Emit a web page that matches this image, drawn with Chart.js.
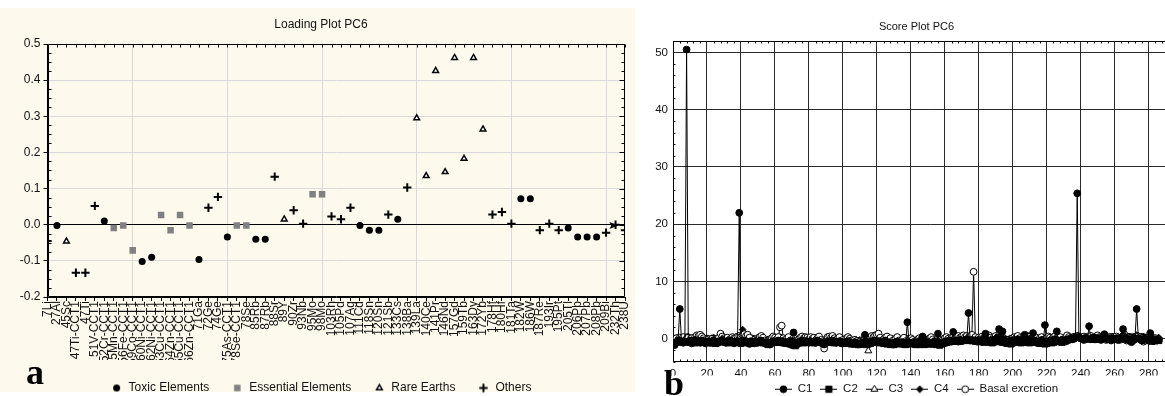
<!DOCTYPE html>
<html><head><meta charset="utf-8">
<script src="https://cdn.jsdelivr.net/npm/chart.js@4/dist/chart.umd.min.js"></script>
<style>
html,body{margin:0;padding:0;background:#fff;width:1165px;height:396px;overflow:hidden;position:relative;}
#creamA{position:absolute;left:0;top:8px;width:635px;height:384px;background:#fdf9ed;}
#cA{position:absolute;left:0;top:8px;}
#cB{position:absolute;left:640px;top:0;}
.lab{position:absolute;font-family:'Liberation Serif','Times New Roman',serif;font-weight:bold;font-size:36px;line-height:36px;color:#000;}
</style></head><body>
<div id="creamA"></div>
<canvas id="cA" width="635" height="396"></canvas>
<canvas id="cB" width="553" height="405"></canvas>
<div class="lab" style="left:26px;top:354px">a</div>
<div class="lab" style="left:664px;top:365px">b</div>
<script>
// ---------- Panel a: loading plot ----------
const elements = ['7Li','27Al','45Sc','47Ti-CCT1','47Ti','51V-CCT1','52Cr-CCT1','55Mn-CCT1','56Fe-CCT1','59Co-CCT1',
 '60Ni-CCT1','62Ni-CCT1','63Cu-CCT1','64Zn-CCT1','65Cu-CCT1','66Zn-CCT1','71Ga','72Ge','74Ge','75As-CCT1',
 '78Se-CCT1','78Se','85Rb','87Rb','88Sr','89Y','90Zr','93Nb','95Mo','98Mo',
 '103Rh','105Pd','107Ag','111Cd','118Sn','120Sn','121Sb','133Cs','138Ba','139La',
 '140Ce','141Pr','146Nd','157Gd','159Tb','163Dy','172Yb','178Hf','180Hf','181Ta',
 '182W','186W','187Re','193Ir','195Pt','205Tl','206Pb','207Pb','208Pb','209Bi',
 '232Th','238U'];
const loadings = [-0.045,-0.002,-0.046,-0.133,-0.133,0.052,0.010,-0.009,-0.002,-0.071,
 -0.102,-0.090,0.027,-0.015,0.027,-0.002,-0.096,0.047,0.077,-0.034,
 -0.002,-0.002,-0.040,-0.040,0.133,0.015,0.040,0.003,0.084,0.084,
 0.023,0.015,0.047,-0.002,-0.015,-0.015,0.028,0.015,0.103,0.295,
 0.135,0.426,0.146,0.462,0.183,0.462,0.264,0.028,0.035,0.003,
 0.072,0.072,-0.015,0.003,-0.015,-0.009,-0.034,-0.034,-0.034,-0.022,
 0.000,-0.015];
// 0 = Toxic, 1 = Essential, 2 = Rare Earths, 3 = Others
const elementGroups = [3,0,2,3,3,3,0,1,1,1,
 0,0,1,1,1,1,0,3,3,0,
 1,1,0,0,3,2,3,3,1,1,
 3,3,3,0,0,0,3,0,3,2,
 2,2,2,2,2,2,2,3,3,3,
 0,0,3,3,3,0,0,0,0,3,
 3,3];
const groupNames = ['Toxic Elements','Essential Elements','Rare Earths','Others'];
const yTickLabelsA = ['-0.2','-0.1','0.0','0.1','0.2','0.3','0.4','0.5'];

// ---------- Panel b: score plot ----------
const seriesNames = ['C1','C2','C3','C4','Basal excretion'];
const xTickLabelsB = ['0','20','40','60','80','100','120','140','160','180','200','220','240','260','280'];
const c1Scores = [
-1.1,-0.6,-0.3,5.2,-0.4,-0.7,-0.5,50.5,-0.6,-0.3,-0.8,-0.5,-0.2,-0.6,-0.4,-0.7,-0.3,-0.5,-0.8,-0.6,
-0.4,-0.7,-0.5,-0.3,-0.6,-0.8,-0.4,-0.5,-0.2,-0.6,-0.7,-0.4,-0.5,-0.3,-0.6,-0.8,-0.5,-0.4,22.0,-0.5,
-0.3,-0.6,-0.4,-0.7,-0.9,-0.5,-0.6,-0.8,-0.4,-0.7,-0.5,-0.3,-0.6,-0.8,-0.9,-0.6,-1.0,-0.7,-0.4,-0.5,
-0.6,-0.3,-0.5,-0.4,-0.7,-0.6,-0.8,-0.5,-0.7,-0.4,1.1,-0.9,-0.8,-0.6,-0.5,-0.3,-0.6,-0.4,-0.5,-0.7,
-0.4,-0.6,-0.5,-0.7,-0.3,-0.5,-0.6,-0.8,-1.0,-0.7,-0.5,-0.4,-0.6,-0.3,-0.5,-0.7,-0.6,-0.4,-0.8,-0.6,
-0.7,-0.5,-0.4,-0.6,-0.8,-0.9,-0.6,-0.7,-1.0,-0.8,-0.9,-0.6,0.7,-0.5,-0.8,-0.6,-0.4,-0.5,-0.3,-0.5,
-0.4,-0.6,-0.7,-0.5,-0.3,-0.6,-0.8,-0.7,-0.9,-1.0,-0.6,-0.5,-0.7,-0.8,-0.6,-0.9,-0.7,2.9,-0.6,-0.8,
-0.7,-0.9,-0.6,-0.8,-0.5,-0.7,0.4,-0.6,-0.8,-0.5,-0.7,-0.9,-0.6,-0.4,-0.5,0.9,-0.7,-0.8,-0.6,-0.5,
-0.4,-0.6,-0.3,-0.5,1.2,-0.4,-0.3,-0.5,-0.2,-0.4,-0.3,-0.2,-0.1,4.5,-0.3,-0.2,-0.4,-0.3,-0.5,-0.2,
-0.4,-0.3,-0.1,0.9,-0.2,-0.3,-0.5,-0.2,-0.4,-0.1,0.2,1.7,0.5,1.3,-0.2,-0.5,-0.7,-0.4,-0.6,-0.3,
-0.2,-0.4,-0.1,-0.3,-0.5,-0.2,0.7,-0.3,-0.1,-0.4,-0.2,1.0,-0.3,-0.5,-0.6,-0.4,-0.2,-0.5,2.4,-0.7,
-0.5,-0.3,-0.4,-0.2,-0.1,1.3,-0.3,-0.4,-0.2,-0.5,-0.3,-0.1,-0.2,0.1,-0.1,0.0,0.2,25.4,0.3,0.1,
0.0,-0.2,0.1,0.0,2.2,-0.1,0.0,0.2,-0.1,0.1,0.0,-0.2,0.1,0.8,0.0,-0.1,0.1,-0.2,0.0,-0.1,
0.1,-0.2,0.0,0.2,1.7,0.1,-0.1,0.0,-0.3,-0.5,-0.2,0.0,5.2,0.1,-0.1,-0.3,-0.2,0.0,-0.1,-0.3,
1.0,-0.2,-0.4,-0.1,-0.3,-0.2];
const c2Scores = [
-0.5,-0.3,-0.6,-0.4,-0.2,-0.5,0.0,-0.3,-0.4,-0.6,-0.5,-0.3,-0.7,-0.4,-0.5,-0.6,-0.3,-0.5,-0.4,-0.6,
-0.5,-0.7,-0.6,-0.4,-0.8,-0.6,-0.5,-0.3,-0.5,-0.4,-0.6,-0.5,-0.7,-0.4,-0.6,-0.5,-0.3,-0.4,-0.6,-0.8,
-0.5,-0.6,-0.4,-0.7,-0.5,-0.8,-0.6,-0.7,-0.5,-0.6,-0.4,-0.5,-0.7,-0.6,-0.8,-1.0,-0.9,-0.7,-0.5,-0.6,
-0.5,-0.4,-0.6,-0.5,-0.7,-0.6,-0.8,-0.7,-0.9,-1.0,-1.1,-1.2,-0.9,-0.7,-0.6,-0.5,-0.7,-0.6,-0.4,-0.5,
-0.6,-0.5,-0.7,-0.6,-0.5,-0.4,-0.6,-0.7,-0.8,-0.6,-0.5,-0.4,-0.6,-0.5,-0.7,-0.6,-0.5,-0.4,-0.6,-0.7,
-0.8,-0.6,-0.5,-0.7,-0.9,-0.8,-0.7,-0.9,-1.0,-0.8,-0.9,-0.7,-0.6,-0.8,-0.9,-0.7,-0.6,-0.5,-0.4,-0.6,
-0.5,-0.7,-0.6,-0.8,-0.7,-0.9,-0.8,-1.0,-0.9,-1.0,-0.8,-0.7,-0.9,-0.8,-0.7,-0.9,-1.0,-0.9,-0.8,-0.7,
-0.8,-0.9,-1.0,-0.8,-1.0,-0.9,-0.8,-1.0,-0.9,-0.7,-0.8,-0.9,-0.7,-0.8,-1.0,-0.9,-1.1,-0.9,-0.8,-0.7,
-0.6,-0.5,-0.4,-0.3,-0.2,-0.4,-0.3,-0.2,-0.4,-0.3,-0.1,-0.2,-0.3,-0.1,-0.2,-0.3,-0.1,-0.2,-0.4,-0.3,
-0.5,-0.4,-0.6,-0.3,-0.5,-0.4,-0.6,-0.7,-0.5,-0.4,-0.3,-0.5,-0.4,-0.6,-0.5,-0.7,-0.8,-0.6,-0.9,-0.7,
-0.5,-0.6,-0.4,-0.5,-0.7,-0.6,-0.5,-0.4,-0.6,-0.7,-0.5,-0.6,-0.4,-0.5,-0.7,-0.8,-0.6,-0.7,-0.9,-0.8,
-0.6,-0.5,-0.7,-0.6,-0.4,-0.5,-0.3,-0.4,-0.6,-0.5,-0.4,-0.2,-0.1,0.0,0.1,0.2,0.3,0.4,0.3,0.2,
0.1,0.2,0.3,0.1,0.0,0.2,0.3,0.1,0.2,0.0,0.1,0.3,0.2,0.1,0.0,0.2,0.1,0.3,0.2,0.0,
0.1,0.2,0.0,-0.1,0.1,0.2,0.3,0.1,0.0,0.2,0.1,0.3,0.2,0.4,0.3,0.1,0.0,-0.1,-0.2,-0.3,
-0.2,-0.4,-0.3,-0.1,-0.2,-0.3];
const c3Scores = [
-0.2,0.0,-0.3,-0.1,0.1,-0.2,-0.1,0.2,0.3,-0.1,0.0,-0.2,0.1,-0.1,0.0,-0.3,-0.2,0.0,-0.1,-0.2,
-0.3,-0.1,0.0,-0.2,-0.1,-0.3,-0.2,0.0,0.1,-0.1,-0.2,0.0,-0.1,-0.3,-0.2,0.0,-0.1,0.1,0.0,0.3,
0.5,0.2,0.0,-0.1,-0.3,-0.2,-0.4,-0.3,-0.1,0.0,-0.2,-0.1,-0.3,-0.2,-0.4,-0.3,-0.5,-0.3,-0.1,-0.2,
-0.1,0.0,0.2,0.1,-0.1,-0.2,-0.3,-0.1,-0.2,-0.4,-0.3,-0.5,-0.4,-0.2,-0.1,0.0,-0.2,-0.1,-0.3,-0.2,
-0.1,-0.2,0.0,-0.1,-0.3,-0.2,-0.4,-0.5,-0.6,-0.4,-0.2,-0.1,-0.3,-0.2,-0.1,-0.3,-0.2,-0.4,-0.3,-0.2,
-0.4,-0.3,-0.2,-0.4,-0.5,-0.6,-0.4,-0.5,-0.7,-0.6,-0.8,-0.7,-0.9,-1.2,-2.1,-1.0,-0.6,-0.4,-0.3,-0.2,
-0.1,-0.3,-0.2,-0.4,-0.3,-0.2,-0.4,-0.5,-0.3,-0.4,-0.6,-0.5,-0.3,-0.4,-0.5,-0.3,-0.4,-0.2,-0.3,-0.5,
-0.4,-0.6,-0.5,-0.3,-0.4,-0.2,-0.3,-0.5,-0.4,-0.3,-0.5,-0.4,-0.2,-0.3,-0.4,-0.2,-0.5,-0.3,-0.4,-0.2,
-0.1,0.0,-0.2,-0.1,0.1,0.0,-0.1,0.1,0.2,0.0,0.1,-0.1,0.2,0.3,0.1,0.0,0.4,0.2,0.0,-0.1,
-0.2,0.0,0.1,-0.1,0.0,-0.2,-0.1,0.1,0.0,0.2,0.1,0.3,0.2,0.0,-0.2,-0.3,-0.5,-0.4,-0.3,-0.2,
-0.1,0.0,-0.2,-0.3,-0.1,0.0,0.1,-0.1,-0.2,0.0,-0.1,0.1,-0.2,-0.3,-0.1,-0.2,0.0,-0.3,-0.4,-0.2,
-0.1,0.0,-0.2,-0.1,0.1,0.0,-0.1,0.1,-0.2,-0.1,0.0,0.2,0.1,0.0,0.2,0.1,0.3,0.5,0.4,0.2,
0.1,0.2,0.0,0.1,0.3,0.2,0.1,0.0,0.2,0.1,0.3,0.2,0.0,0.1,0.2,0.0,0.1,0.2,0.3,0.1,
0.0,0.2,0.1,0.3,0.2,0.4,0.6,0.3,0.1,0.0,0.2,0.1,0.3,0.2,0.1,0.0,-0.1,0.1,0.0,-0.2,
0.0,-0.1,0.1,0.0,-0.2,-0.1];
const c4Scores = [
0.1,-0.1,0.2,0.0,-0.2,0.1,0.3,0.0,0.4,0.2,0.0,-0.1,0.1,0.2,0.0,-0.1,0.1,0.0,-0.2,0.1,
0.0,-0.1,0.1,0.2,-0.1,0.0,0.1,0.2,0.0,-0.1,0.1,0.0,-0.2,0.1,0.0,0.2,0.1,0.0,0.3,0.6,
1.6,0.9,0.4,0.2,0.0,-0.1,0.1,0.0,-0.2,0.1,0.0,-0.1,0.1,0.0,-0.2,-0.1,0.0,0.1,-0.1,0.0,
0.1,0.0,0.2,0.1,0.0,-0.1,0.1,0.0,-0.2,-0.1,0.0,-0.2,-0.1,0.1,0.0,0.2,0.1,0.0,-0.1,0.1,
0.0,0.1,-0.1,0.0,0.1,0.2,0.0,-0.1,-0.3,-0.1,0.0,0.1,0.0,0.2,0.1,0.0,-0.1,0.1,0.0,-0.1,
-0.2,0.0,0.1,-0.1,-0.2,-0.3,-0.1,-0.2,-0.3,-0.2,-0.4,-0.3,-0.1,-0.2,-0.5,-0.3,-0.1,0.0,0.1,0.0,
0.2,0.1,0.0,-0.1,0.0,0.1,-0.1,0.0,-0.2,-0.1,0.0,0.1,-0.1,-0.2,0.0,-0.1,-0.2,0.0,-0.1,-0.2,
-0.1,-0.3,-0.2,-0.1,0.0,-0.1,0.1,-0.2,-0.1,0.0,-0.2,-0.1,0.0,-0.2,-0.1,0.1,-0.1,-0.2,0.0,0.1,
0.2,0.1,0.0,0.2,0.3,0.2,0.1,0.3,0.2,0.4,0.3,0.2,0.4,0.3,0.2,0.3,0.5,0.2,0.1,0.2,
0.1,0.2,0.3,0.1,0.2,0.3,0.1,0.0,0.2,0.3,0.4,1.1,0.8,0.4,0.1,0.0,-0.1,0.0,-0.2,0.1,
0.2,0.1,0.3,0.0,0.1,0.2,0.1,0.3,0.2,0.1,0.0,0.2,0.1,-0.1,0.0,0.1,0.2,0.0,-0.1,0.1,
0.2,0.1,0.0,0.2,0.1,0.3,0.2,0.0,0.1,0.2,0.0,0.1,0.2,0.3,0.2,0.4,0.5,0.3,0.4,0.3,
0.2,0.3,0.4,0.2,0.3,0.5,0.4,0.2,0.3,0.4,0.2,0.3,0.4,0.2,0.3,0.1,0.2,0.3,0.4,0.2,
0.3,0.4,0.2,0.5,0.7,0.4,0.3,0.2,0.4,0.3,0.2,0.4,0.6,0.5,0.3,0.2,0.4,0.3,0.1,0.2,
0.3,0.1,0.2,0.0,0.1,0.2];
const basalScores = [
-0.3,0.1,-0.2,0.2,-0.1,0.3,-0.4,0.0,0.2,-0.3,0.1,-0.5,0.3,0.6,0.5,0.7,0.4,0.1,-0.2,-0.3,
-0.1,-0.4,0.0,-0.2,-0.5,-0.3,0.2,0.9,0.4,0.1,-0.1,0.2,-0.2,0.0,0.3,0.1,0.2,0.4,0.5,0.3,
0.6,0.8,0.5,0.7,0.2,-0.4,-0.6,-0.2,-0.5,0.1,0.3,0.5,0.2,-0.3,-0.6,-0.4,-0.2,0.1,0.4,0.2,
-0.1,0.3,2.0,2.3,0.1,-0.2,0.0,0.3,-0.3,-0.5,0.1,-0.4,-0.6,-0.2,0.2,0.4,0.1,0.3,0.2,-0.1,
0.3,0.0,0.2,-0.3,0.1,0.4,-0.2,-0.6,-1.7,-0.5,0.3,0.4,0.2,0.5,0.1,-0.2,0.0,0.3,-0.4,-0.2,
-0.5,0.1,0.3,0.0,-0.3,-0.6,-0.2,-0.4,-0.7,-0.5,-0.8,-0.3,0.1,-0.2,-0.4,0.2,0.5,0.3,0.6,0.7,
0.9,0.2,-0.3,-0.1,0.2,0.4,-0.2,0.1,-0.4,-0.2,0.0,0.3,-0.3,-0.5,-0.1,0.2,-0.4,-0.6,-0.3,0.1,
-0.2,-0.5,-0.7,-0.3,0.1,-0.1,0.2,-0.4,-0.6,-0.2,0.0,0.3,-0.1,-0.5,-0.3,0.2,-0.2,-0.4,-0.1,0.1,
0.3,0.0,-0.3,0.2,0.4,0.1,0.3,0.5,0.2,0.4,0.6,0.3,0.5,0.2,0.4,0.7,11.7,0.3,-0.1,0.2,
0.0,0.4,0.2,0.5,0.3,0.6,0.2,-0.1,0.3,0.5,0.2,0.7,0.4,0.3,-0.2,-0.5,-0.3,-0.6,-0.2,0.1,
0.3,0.2,0.5,0.1,-0.2,0.0,0.3,0.6,0.2,0.4,0.1,0.3,-0.1,0.2,-0.3,0.1,0.3,-0.2,-0.4,0.1,
0.4,0.2,-0.1,0.3,0.5,0.2,0.0,0.3,-0.2,-0.4,0.1,0.6,0.3,-0.1,0.2,0.0,0.3,0.4,0.2,0.3,
0.1,0.4,0.2,0.0,0.3,0.5,0.2,-0.1,0.4,0.6,0.3,0.2,0.0,0.3,-0.2,0.1,0.3,-0.3,-0.1,0.2,
0.4,0.1,-0.2,0.2,0.3,0.0,-0.3,0.2,-0.4,-0.6,-0.3,-0.1,0.2,0.4,0.1,-0.2,-0.5,-0.3,0.0,0.2,
-0.1,-0.4,-0.2,0.1,-0.3,-0.1];
const firstSampleNo = 1;

// ---------- helpers ----------
Chart.defaults.font.family = "'Liberation Sans', Arial, sans-serif";
Chart.defaults.color = '#111';

function drawMarker(g, st, x, y) {
  const r = st.radius;
  g.save();
  g.fillStyle = st.bg; g.strokeStyle = st.bc; g.lineWidth = st.bw;
  g.beginPath();
  if (st.pointStyle === 'circle') { g.arc(x, y, r, 0, Math.PI * 2); g.fill(); if (st.bw) g.stroke(); }
  else if (st.pointStyle === 'rect') { const s = r * Math.SQRT1_2; g.rect(x - s, y - s, 2 * s, 2 * s); g.fill(); if (st.bw) g.stroke(); }
  else if (st.pointStyle === 'rectRot') { const s = r; g.moveTo(x, y - s); g.lineTo(x + s, y); g.lineTo(x, y + s); g.lineTo(x - s, y); g.closePath(); g.fill(); if (st.bw) g.stroke(); }
  else if (st.pointStyle === 'triangle') {
    g.moveTo(x, y - r); g.lineTo(x + r * 0.866, y + r * 0.5); g.lineTo(x - r * 0.866, y + r * 0.5); g.closePath(); g.fill(); if (st.bw) g.stroke();
  }
  else if (st.pointStyle === 'cross') { g.moveTo(x - r, y); g.lineTo(x + r, y); g.moveTo(x, y - r); g.lineTo(x, y + r); g.stroke(); }
  g.restore();
}
function makeIcon(w, h, st, withLine) {
  const c = document.createElement('canvas'); c.width = w; c.height = h;
  const g = c.getContext('2d');
  if (withLine) { g.strokeStyle = '#000'; g.lineWidth = 1; g.beginPath(); g.moveTo(0, Math.floor(h / 2) + 0.5); g.lineTo(w, Math.floor(h / 2) + 0.5); g.stroke(); }
  drawMarker(g, st, w / 2, Math.floor(h / 2) + 0.5);
  return c;
}

const decorPlugin = {
  id: 'decor',
  afterDatasetsDraw(chart, args, o) {
    const {ctx, chartArea: a, scales} = chart;
    const xs = scales.x, ys = scales.y;
    ctx.save();
    ctx.strokeStyle = '#000'; ctx.lineWidth = 1;
    const L = Math.round(a.left) + 0.5, R = Math.round(a.right) - 0.5, T = Math.round(a.top) + 0.5, B = Math.round(a.bottom) - 0.5;
    ctx.beginPath();
    if (o.frame) { ctx.rect(L, T, R - L, B - T); } else { ctx.moveTo(L, T); ctx.lineTo(R + 20, T); }
    (o.topTicks || []).forEach(v => { const p = Math.round(xs.getPixelForValue(v)) + 0.5; ctx.moveTo(p, T); ctx.lineTo(p, T + o.topLen); });
    (o.bottomTicks || []).forEach(v => { const p = Math.round(xs.getPixelForValue(v)) + 0.5; ctx.moveTo(p, B); ctx.lineTo(p, B - o.bottomLen); });
    (o.leftTicks || []).forEach(v => { const p = Math.round(ys.getPixelForValue(v)) + 0.5; ctx.moveTo(L, p); ctx.lineTo(L + o.leftLen, p); });
    (o.rightTicks || []).forEach(t => { const p = Math.round(ys.getPixelForValue(t[0])) + 0.5; ctx.moveTo(R, p); ctx.lineTo(R - t[1], p); });
    ctx.stroke();
    if (o.arrowAt != null) {
      const px = xs.getPixelForValue(o.arrowAt), py = Math.round(ys.getPixelForValue(0)) + 0.5;
      ctx.fillStyle = '#000'; ctx.beginPath();
      ctx.moveTo(px, py); ctx.lineTo(px - 9, py - 3.5); ctx.lineTo(px - 7, py); ctx.lineTo(px - 9, py + 3.5); ctx.closePath(); ctx.fill();
    }
    ctx.restore();
  }
};

// ---------- chart a ----------
const groupStyles = [
  {pointStyle: 'circle', radius: 3.5, bg: '#000', bc: '#000', bw: 0},
  {pointStyle: 'rect', radius: 4.6, bg: '#808080', bc: '#808080', bw: 0},
  {pointStyle: 'triangle', radius: 3.3, bg: '#fff', bc: '#000', bw: 1.5},
  {pointStyle: 'cross', radius: 4.2, bg: '#000', bc: '#000', bw: 2}
];
const dsA = groupNames.map((name, g) => ({
  label: name,
  data: elements.map((e, i) => elementGroups[i] === g ? {x: i, y: loadings[i]} : null).filter(p => p),
  pointStyle: groupStyles[g].pointStyle,
  pointRadius: groupStyles[g].radius,
  backgroundColor: groupStyles[g].bg,
  borderColor: groupStyles[g].bc,
  pointBorderWidth: groupStyles[g].bw,
  borderWidth: groupStyles[g].bw,
  clip: 0
}));
const minorA = [], rightA = [];
for (let k = -8; k <= 20; k++) { const v = k * 0.025; if (k % 4 !== 0) minorA.push(v); rightA.push([v, k % 4 === 0 ? 5 : 3]); }

new Chart(document.getElementById('cA'), {
  type: 'scatter',
  data: {datasets: dsA},
  options: {
    responsive: false, animation: false, devicePixelRatio: 1, events: [],
    layout: {padding: {left: 17, right: 10, top: 0, bottom: 0}},
    plugins: {
      tooltip: {enabled: false},
      title: {display: true, text: 'Loading Plot PC6', color: '#111', font: {size: 12, weight: 'normal'}, padding: {top: 9.8, bottom: 11.8}},
      legend: {position: 'bottom', labels: {
        usePointStyle: true, pointStyleWidth: 12, padding: 22, font: {size: 12}, color: '#111',
        generateLabels: ch => ch.data.datasets.map((ds, i) => ({
          text: ds.label, datasetIndex: i, hidden: false, fontColor: '#111', lineWidth: 0,
          fillStyle: ds.backgroundColor, strokeStyle: ds.borderColor,
          pointStyle: makeIcon(11, 11, groupStyles[i], false)
        }))
      }},
      decor: {frame: true, topTicks: elements.map((e, i) => i), topLen: 3, leftTicks: minorA, leftLen: 3, rightTicks: rightA, arrowAt: 60.3}
    },
    scales: {
      x: {
        type: 'linear', min: 0, max: elements.length - 1,
        afterBuildTicks: s => { s.ticks = elements.map((e, i) => ({value: i})); },
        afterFit: s => { s.height = 63; s.paddingLeft = 0; s.paddingRight = 0; },
        ticks: {autoSkip: false, minRotation: 90, maxRotation: 90, padding: 0, font: {size: 12}, color: '#111',
                callback: v => elements[v]},
        grid: {color: c => (c.tick && c.tick.value % 10 === 9) ? '#d9d9d9' : 'rgba(0,0,0,0)', tickColor: '#000', tickLength: 4},
        border: {color: '#000'}
      },
      y: {
        min: -0.2, max: 0.5,
        afterFit: s => { s.width = 30.5; s.paddingTop = 0; s.paddingBottom = 0; },
        ticks: {stepSize: 0.1, padding: 3, font: {size: 12}, color: '#111',
                callback: (v, i) => yTickLabelsA[i]},
        grid: {color: c => (c.tick && Math.abs(c.tick.value) < 1e-9) ? '#000' : '#d9d9d9', tickColor: '#000', tickLength: 4},
        border: {color: '#000'}
      }
    }
  },
  plugins: [decorPlugin]
});

// ---------- chart b ----------
const seriesStyles = [
  {pointStyle: 'circle', radius: 3.4, bg: '#000', bc: '#000', bw: 1},
  {pointStyle: 'rect', radius: 4.4, bg: '#000', bc: '#000', bw: 1},
  {pointStyle: 'triangle', radius: 4, bg: '#fff', bc: '#000', bw: 1},
  {pointStyle: 'rectRot', radius: 3.4, bg: '#000', bc: '#000', bw: 1},
  {pointStyle: 'circle', radius: 3.4, bg: '#fff', bc: '#000', bw: 1}
];
const seriesValues = [c1Scores, c2Scores, c3Scores, c4Scores, basalScores];
const seriesOrder = [0, 2, 3, 4, 1];
const dsB = seriesNames.map((name, s) => ({
  label: name,
  data: seriesValues[s].map((v, i) => ({x: i + firstSampleNo, y: v})),
  order: seriesOrder[s],
  borderColor: '#000', borderWidth: 1,
  pointStyle: seriesStyles[s].pointStyle,
  pointRadius: seriesStyles[s].radius,
  pointBackgroundColor: seriesStyles[s].bg,
  pointBorderColor: seriesStyles[s].bc,
  pointBorderWidth: seriesStyles[s].bw,
  backgroundColor: seriesStyles[s].bg,
  tension: 0
}));
const topB = [], leftB = [];
for (let v = 0; v <= 300; v += 4) if (v % 20 !== 0) topB.push(v);
for (let v = -4; v <= 52; v += 2) if (v % 10 !== 0) leftB.push(v);

new Chart(document.getElementById('cB'), {
  type: 'line',
  data: {datasets: dsB},
  options: {
    responsive: false, animation: false, devicePixelRatio: 1, events: [],
    layout: {padding: 0},
    plugins: {
      tooltip: {enabled: false},
      title: {display: true, text: 'Score Plot PC6', color: '#111', font: {size: 11, weight: 'normal'}, padding: {top: 20, bottom: 7.8}},
      legend: {position: 'bottom', labels: {
        usePointStyle: true, pointStyleWidth: 17, padding: 8, font: {size: 11.5}, color: '#111',
        generateLabels: ch => ch.data.datasets.map((ds, i) => ({
          text: ds.label, datasetIndex: i, hidden: false, fontColor: '#111', lineWidth: 0,
          fillStyle: '#000', strokeStyle: '#000',
          pointStyle: makeIcon(17, 9, seriesStyles[i], true)
        }))
      }},
      decor: {frame: false, topTicks: topB, topLen: 2, bottomTicks: topB, bottomLen: 2, leftTicks: leftB, leftLen: 2}
    },
    scales: {
      x: {
        type: 'linear', min: 0, max: 303,
        afterFit: s => { s.height = 13.8; s.paddingLeft = 0; s.paddingRight = 0; },
        ticks: {stepSize: 20, includeBounds: false, padding: 5, font: {size: 11.5}, color: '#111',
                callback: (v, i) => xTickLabelsB[i]},
        grid: {color: '#2a2a2a', drawTicks: false},
        border: {color: '#000'}
      },
      y: {
        min: -4, max: 52,
        afterFit: s => { s.width = 33; s.paddingTop = 0; s.paddingBottom = 0; },
        ticks: {stepSize: 10, includeBounds: false, padding: 5, font: {size: 11.5}, color: '#111'},
        grid: {color: '#2a2a2a', drawTicks: false},
        border: {color: '#000'}
      }
    }
  },
  plugins: [decorPlugin]
});
</script>
</body></html>
